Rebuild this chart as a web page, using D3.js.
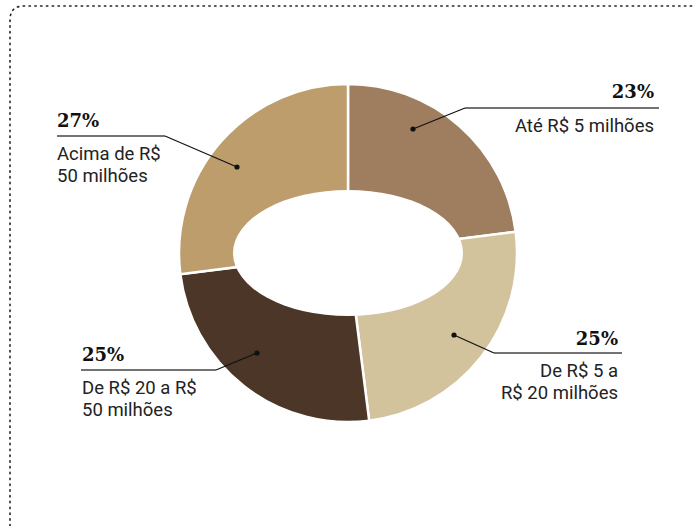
<!DOCTYPE html>
<meta charset="utf-8">
<title>Faixas de faturamento</title>

<style>
body { margin: 0; background: #fff; }
.pct { font-family: "DejaVu Serif", serif; font-weight: bold; font-size: 18px; fill: #111; }
.lbl { font-family: Roboto, sans-serif; font-size: 18.5px; fill: #222; }
.rule { stroke: #444; stroke-width: 1.5; }
.leader { stroke: #111; stroke-width: 1.2; fill: none; }
.frame { stroke: #222; stroke-width: 1.6; fill: none; stroke-dasharray: 1.4 4.4; stroke-linecap: round; }
</style>

<body>
<svg width="697" height="526"></svg>

<script src="https://d3js.org/d3.v7.min.js"></script>

<script>

var categories = ["Até R$ 5 milhões", "De R$ 5 a R$ 20 milhões", "De R$ 20 a R$ 50 milhões", "Acima de R$ 50 milhões"];
var values = [23, 25, 25, 27];
var colors = ["#9e7e5e", "#d2c39c", "#4b3627", "#bd9d6b"];
var labelLines = [["Até R$ 5 milhões"], ["De R$ 5 a", "R$ 20 milhões"], ["De R$ 20 a R$", "50 milhões"], ["Acima de R$", "50 milhões"]];

// annotation layout: text anchor point, rule span, dot inside the slice
var notes = [
  {x: 654, y: 98,  anchor: "end",   rule: [465, 659], ruleY: 108, dot: [413, 129]},
  {x: 618, y: 345, anchor: "end",   rule: [494, 622], ruleY: 353, dot: [454, 335]},
  {x: 82,  y: 361, anchor: "start", rule: [81, 216],  ruleY: 370, dot: [257, 353]},
  {x: 57,  y: 127, anchor: "start", rule: [57, 165],  ruleY: 136, dot: [237, 167]}
];

var svg = d3.select("svg"),
    cx = 348, cy = 253,
    outerR = 169,
    holeRx = 115, holeRy = 63;

// dotted frame
svg.append("path")
    .attr("class", "frame")
    .attr("d", "M10,526 V20 Q10,6 24,6 H694");

var pie = d3.pie().sort(null).value(function(d) { return d; });
var arc = d3.arc().innerRadius(0).outerRadius(outerR);

var g = svg.append("g")
    .attr("transform", "translate(" + cx + "," + cy + ")");

g.selectAll(".slice")
  .data(pie(values))
  .enter().append("path")
    .attr("class", "slice")
    .attr("d", arc)
    .attr("fill", function(d, i) { return colors[i]; })
    .attr("stroke", "#fff")
    .attr("stroke-width", 2.5);

// elliptical hole
g.append("ellipse")
    .attr("rx", holeRx)
    .attr("ry", holeRy)
    .attr("fill", "#fff");

var ann = svg.selectAll(".note")
  .data(notes)
  .enter().append("g")
    .attr("class", "note");

ann.append("line")
    .attr("class", "rule")
    .attr("x1", function(d) { return d.rule[0]; })
    .attr("x2", function(d) { return d.rule[1]; })
    .attr("y1", function(d) { return d.ruleY; })
    .attr("y2", function(d) { return d.ruleY; });

ann.append("line")
    .attr("class", "leader")
    .attr("x1", function(d) { return d.anchor === "end" ? d.rule[0] : d.rule[1]; })
    .attr("y1", function(d) { return d.ruleY; })
    .attr("x2", function(d) { return d.dot[0]; })
    .attr("y2", function(d) { return d.dot[1]; });

ann.append("circle")
    .attr("cx", function(d) { return d.dot[0]; })
    .attr("cy", function(d) { return d.dot[1]; })
    .attr("r", 2.6)
    .attr("fill", "#111");

ann.append("text")
    .attr("class", "pct")
    .attr("x", function(d) { return d.x; })
    .attr("y", function(d) { return d.y; })
    .attr("text-anchor", function(d) { return d.anchor; })
    .text(function(d, i) { return values[i] + "%"; });

ann.each(function(d, i) {
  var t = d3.select(this).append("text")
      .attr("class", "lbl")
      .attr("text-anchor", d.anchor);
  labelLines[i].forEach(function(s, k) {
    t.append("tspan")
        .attr("x", d.x)
        .attr("y", d.ruleY + 24 + k * 22)
        .text(s);
  });
});

</script>
</body>
